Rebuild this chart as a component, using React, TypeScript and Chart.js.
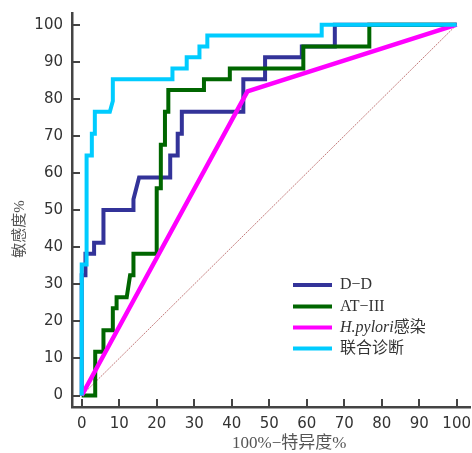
import React, { useEffect, useRef } from "react";
import { Chart, registerables } from "chart.js";

Chart.register(...registerables);

// ---- data ----
const seriesLabels = ["D−D", "AT−III", "H.pylori感染", "联合诊断"];
const seriesColors = ["#333399", "#006600", "#ff00ff", "#00ccff"];

const ddX = [0, 0, 1.0, 1.0, 3.3, 3.3, 5.8, 5.8, 13.8, 13.8, 15.3, 23.6, 23.6, 25.6, 25.6, 26.7, 26.7, 43.1, 43.1, 48.9, 48.9, 58.7, 58.7, 67.5, 67.5, 100];
const ddY = [0, 32.4, 32.4, 38.2, 38.2, 41.2, 41.2, 50, 50, 52.9, 58.8, 58.8, 64.7, 64.7, 70.6, 70.6, 76.5, 76.5, 85.3, 85.3, 91.2, 91.2, 94.1, 94.1, 100, 100];

const atX = [0, 3.6, 3.6, 5.8, 5.8, 8.3, 8.3, 9.3, 9.3, 12.0, 12.9, 13.8, 13.8, 20, 20, 21.1, 21.1, 22.2, 22.2, 23.1, 23.1, 32.6, 32.6, 39.5, 39.5, 59.1, 59.1, 76.7, 76.7, 100];
const atY = [0, 0, 11.8, 11.8, 17.6, 17.6, 23.5, 23.5, 26.5, 26.5, 32.4, 32.4, 38.2, 38.2, 55.9, 55.9, 67.6, 67.6, 76.5, 76.5, 82.4, 82.4, 85.3, 85.3, 88.2, 88.2, 94.1, 94.1, 100, 100];

const hpX = [0, 44.2, 100];
const hpY = [0, 82, 100];

const combX = [0, 0, 1.3, 1.3, 2.7, 2.7, 3.5, 3.5, 7.5, 8.3, 8.3, 24.2, 24.2, 28, 28, 31.4, 31.4, 33.5, 33.5, 64, 64, 100];
const combY = [0, 35.3, 35.3, 64.7, 64.7, 70.6, 70.6, 76.5, 76.5, 79.4, 85.3, 85.3, 88.2, 88.2, 91.2, 91.2, 94.1, 94.1, 97.1, 97.1, 100, 100];

const refX = [0, 100];
const refY = [0, 100];

const xTickValues = [0, 10, 20, 30, 40, 50, 60, 70, 80, 90, 100];
const yTickValues = [0, 10, 20, 30, 40, 50, 60, 70, 80, 90, 100];

const xTitle = "100%−特异度%";
const yTitle = "敏感度%";

const toPoints = (xs: number[], ys: number[]) => xs.map((x, i) => ({ x, y: ys[i] }));

const inwardTicks = {
  id: "inwardTicks",
  afterDraw(chart: any) {
    const { ctx, chartArea, scales } = chart;
    const x = scales.x;
    const y = scales.y;
    ctx.save();
    ctx.strokeStyle = "#444";
    ctx.lineWidth = 2;
    ctx.beginPath();
    xTickValues.forEach((v) => {
      const px = Math.round(x.getPixelForValue(v));
      ctx.moveTo(px, chartArea.bottom);
      ctx.lineTo(px, chartArea.bottom - 8);
    });
    yTickValues.forEach((v) => {
      const py = Math.round(y.getPixelForValue(v));
      ctx.moveTo(chartArea.left, py);
      ctx.lineTo(chartArea.left + 8, py);
    });
    ctx.stroke();
    ctx.restore();
  },
};

const customLegend = {
  id: "customLegend",
  afterDraw(chart: any) {
    const { ctx } = chart;
    const lineX0 = 293;
    const lineX1 = 332;
    const textX = 340;
    const rowY = [285, 306.5, 327.5, 348.5];
    const latin = '16px "Liberation Serif", "Noto Sans CJK SC"';
    ctx.save();
    ctx.textBaseline = "middle";
    ctx.textAlign = "left";
    seriesLabels.forEach((label, i) => {
      const yy = rowY[i];
      ctx.strokeStyle = seriesColors[i];
      ctx.lineWidth = 4;
      ctx.beginPath();
      ctx.moveTo(lineX0, yy);
      ctx.lineTo(lineX1, yy);
      ctx.stroke();
      ctx.fillStyle = "#333";
      if (label.startsWith("H.pylori")) {
        const ital = "H.pylori";
        ctx.font = 'italic 16px "Liberation Serif"';
        ctx.fillText(ital, textX, yy);
        const w = ctx.measureText(ital).width;
        ctx.font = latin;
        ctx.fillText(label.slice(ital.length), textX + w, yy);
      } else {
        ctx.font = latin;
        ctx.fillText(label, textX, yy);
      }
    });
    ctx.restore();
  },
};

const axisTitles = {
  id: "axisTitles",
  afterDraw(chart: any) {
    const { ctx } = chart;
    ctx.save();
    ctx.fillStyle = "#555";
    ctx.textBaseline = "middle";
    ctx.textAlign = "left";
    ctx.font = '17px "Liberation Serif", "Noto Sans CJK SC"';
    ctx.fillText(xTitle, 232, 444);
    ctx.translate(20, 229);
    ctx.rotate(-Math.PI / 2);
    ctx.textAlign = "center";
    ctx.font = '15px "Liberation Serif", "Noto Sans CJK SC"';
    ctx.fillText(yTitle, 0, 0);
    ctx.restore();
  },
};

export default function App() {
  const ref = useRef<HTMLCanvasElement | null>(null);

  useEffect(() => {
    const canvas = ref.current;
    if (!canvas) return;
    const common = {
      pointRadius: 0,
      fill: false,
      tension: 0,
      borderJoinStyle: "miter" as const,
      borderCapStyle: "butt" as const,
      clip: false as any,
    };
    const zeroPad = (s: any) => {
      s.paddingTop = 0;
      s.paddingBottom = 0;
      s.paddingLeft = 0;
      s.paddingRight = 0;
    };
    const chart = new Chart(canvas, {
      type: "line",
      data: {
        datasets: [
          { ...common, label: "ref", data: toPoints(refX, refY), borderColor: "rgba(180,90,90,0.8)", borderWidth: 1, borderDash: [2, 1], order: 5 },
          { ...common, label: seriesLabels[0], data: toPoints(ddX, ddY), borderColor: seriesColors[0], borderWidth: 4, order: 4 },
          { ...common, label: seriesLabels[1], data: toPoints(atX, atY), borderColor: seriesColors[1], borderWidth: 4, order: 3 },
          { ...common, label: seriesLabels[2], data: toPoints(hpX, hpY), borderColor: seriesColors[2], borderWidth: 4.5, order: 2 },
          { ...common, label: seriesLabels[3], data: toPoints(combX, combY), borderColor: seriesColors[3], borderWidth: 4, order: 1 },
        ],
      },
      options: {
        responsive: false,
        animation: false,
        events: [],
        layout: { padding: { left: 0, top: 13, right: 2, bottom: 0 } },
        plugins: {
          legend: { display: false },
          tooltip: { enabled: false },
          title: { display: false },
        },
        scales: {
          x: {
            type: "linear",
            min: -2.59,
            max: 103.55,
            afterBuildTicks: (s: any) => {
              s.ticks = xTickValues.map((v) => ({ value: v }));
            },
            afterFit: (s: any) => {
              s.height = 46;
              zeroPad(s);
            },
            grid: { display: false, drawTicks: false },
            border: { display: true, color: "#444", width: 2.5 },
            ticks: {
              padding: 8,
              color: "#333",
              autoSkip: false,
              maxRotation: 0,
              font: { family: "DejaVu Sans", size: 15 },
            },
          },
          y: {
            type: "linear",
            min: -3.1,
            max: 103.16,
            afterBuildTicks: (s: any) => {
              s.ticks = yTickValues.map((v) => ({ value: v }));
            },
            afterFit: (s: any) => {
              s.width = 72;
              zeroPad(s);
            },
            grid: { display: false, drawTicks: false },
            border: { display: true, color: "#444", width: 2.5 },
            ticks: {
              padding: 9,
              color: "#333",
              autoSkip: false,
              font: { family: "DejaVu Sans", size: 15 },
            },
          },
        },
      },
      plugins: [inwardTicks, customLegend, axisTitles],
    });
    return () => chart.destroy();
  }, []);

  return (
    <div style={{ position: "fixed", left: 0, top: 0, width: 472, height: 453, background: "#fff" }}>
      <canvas ref={ref} width={472} height={453} style={{ display: "block", width: 472, height: 453 }} />
    </div>
  );
}
